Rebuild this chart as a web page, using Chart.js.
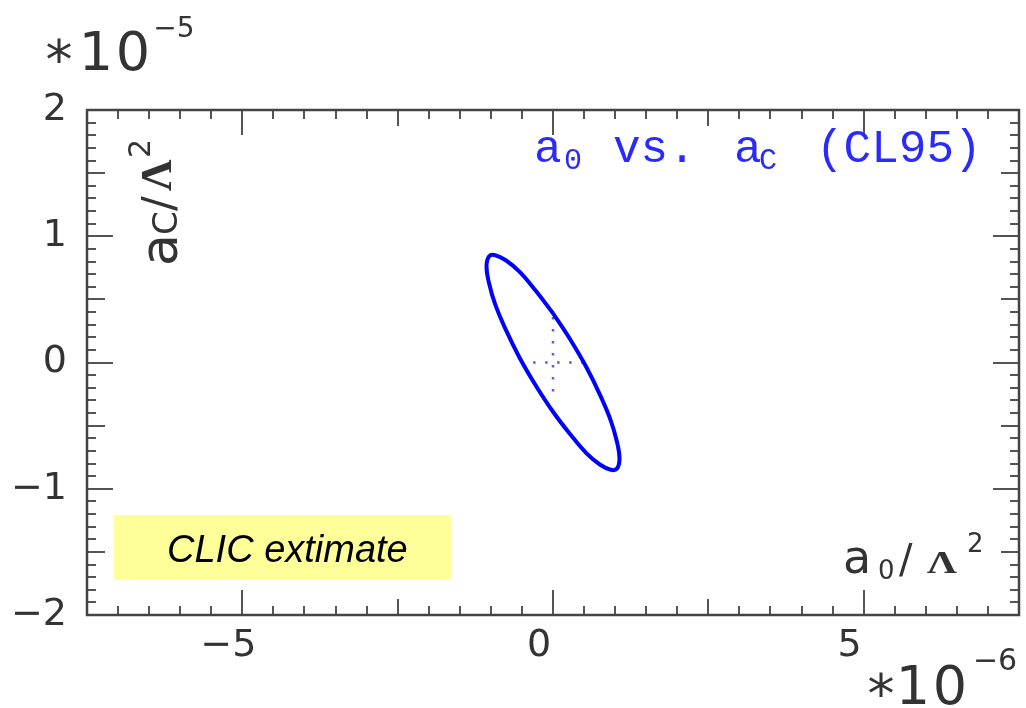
<!DOCTYPE html>
<html>
<head>
<meta charset="utf-8">
<script src="https://cdn.jsdelivr.net/npm/chart.js@4"></script>
<style>
  html, body { margin: 0; padding: 0; background: #ffffff; }
  #wrap { width: 1026px; height: 708px; }
</style>
</head>
<body>
<div id="wrap"><canvas id="c" width="1026" height="708"></canvas></div>
<script>
// ---- data (x in units of 1e-6, y in units of 1e-5) ----
const xTickValues = [-5, 0, 5];
const xTickLabels = ['\u22125', '0', '5'];
const yTickValues = [-2, -1, 0, 1, 2];
const yTickLabels = ['\u22122', '\u22121', '0', '1', '2'];

// CL95 contour of a0 vs aC
const ellipseX = [0.00, -0.28, -0.54, -0.76, -0.93, -1.03, -1.07, -1.03, -0.93, -0.76, -0.54, -0.28,
                  0.00, 0.28, 0.54, 0.76, 0.93, 1.03, 1.07, 1.03, 0.93, 0.76, 0.54, 0.28, 0.00];
const ellipseY = [0.39, 0.57, 0.72, 0.81, 0.85, 0.84, 0.76, 0.63, 0.46, 0.26, 0.04, -0.18,
                  -0.39, -0.57, -0.72, -0.81, -0.85, -0.84, -0.76, -0.63, -0.46, -0.26, -0.04, 0.18, 0.39];

// central value cross (dotted)
const crossHX = [-0.32, 0.48];
const crossHY = [0.00, 0.00];
const crossVX = [0.00, 0.00];
const crossVY = [0.36, -0.30];

const legendText = ['a', '0', 'vs.', 'a', 'C', '(CL95)'];
const boxText = 'CLIC extimate';

const toPts = (xs, ys) => xs.map((x, i) => ({ x: x, y: ys[i] }));

const FONT = "'DejaVu Sans', 'Liberation Sans', sans-serif";
const TEXT = '#333333';

const decor = {
  id: 'decor',
  beforeDatasetsDraw(chart) {
    const ctx = chart.ctx;
    ctx.save();
    ctx.fillStyle = '#ffff99';
    ctx.fillRect(114, 515, 337, 65);
    ctx.fillStyle = '#000000';
    ctx.font = "italic 38px 'Liberation Sans', Arial, sans-serif";
    ctx.textBaseline = 'alphabetic';
    ctx.textAlign = 'left';
    ctx.fillText(boxText, 167, 562);
    ctx.restore();
  },
  afterDraw(chart) {
    const ctx = chart.ctx;
    const a = chart.chartArea;
    const xs = chart.scales.x, ys = chart.scales.y;
    ctx.save();
    // ticks (inward)
    ctx.strokeStyle = '#555555';
    ctx.lineWidth = 2;
    ctx.beginPath();
    for (let k = -15; k <= 15; k++) {
      const v = k * 0.5;
      const px = Math.round(xs.getPixelForValue(v));
      let len = 9;
      if (k % 10 === 0) len = 25; else if (k % 5 === 0) len = 16;
      ctx.moveTo(px, a.bottom); ctx.lineTo(px, a.bottom - len);
      ctx.moveTo(px, a.top); ctx.lineTo(px, a.top + len);
    }
    for (let k = -20; k <= 20; k++) {
      const v = k * 0.1;
      const py = Math.round(ys.getPixelForValue(v));
      let len = 9;
      if (k % 10 === 0) len = 26; else if (k % 5 === 0) len = 18;
      ctx.moveTo(a.left, py); ctx.lineTo(a.left + len, py);
      ctx.moveTo(a.right, py); ctx.lineTo(a.right - len, py);
    }
    ctx.stroke();
    // frame
    ctx.strokeStyle = '#444444';
    ctx.lineWidth = 2.5;
    ctx.strokeRect(a.left, a.top, a.right - a.left, a.bottom - a.top);

    // exponent labels
    ctx.fillStyle = TEXT;
    ctx.textBaseline = 'alphabetic';
    ctx.textAlign = 'center';
    ctx.font = '54px ' + FONT;
    ctx.fillText('*', 59, 78);
    ctx.fillText('1', 96, 70);
    ctx.fillText('0', 133, 70);
    ctx.font = '28px ' + FONT;
    ctx.fillText('\u22125', 174, 37);

    ctx.font = '54px ' + FONT;
    ctx.fillText('*', 881, 712);
    ctx.fillText('1', 913, 704);
    ctx.fillText('0', 950, 704);
    ctx.font = '30px ' + FONT;
    ctx.fillText('\u22126', 995, 670);

    // x title a0/Λ2
    ctx.textAlign = 'left';
    ctx.font = '46px ' + FONT;
    ctx.fillText('a', 843, 573);
    ctx.font = '26px ' + FONT;
    ctx.fillText('0', 878, 579);
    ctx.font = '40px ' + FONT;
    ctx.fillText('/', 899, 573);
    ctx.save();
    ctx.translate(927, 573);
    ctx.scale(1.3, 1);
    ctx.font = "bold 32px 'Liberation Serif', serif";
    ctx.fillText('\u039B', 0, 0);
    ctx.restore();
    ctx.font = '26px ' + FONT;
    ctx.fillText('2', 967, 552);

    // y title aC/Λ2 (rotated)
    ctx.save();
    ctx.translate(177, 266);
    ctx.rotate(-Math.PI / 2);
    ctx.font = '52px ' + FONT;
    ctx.fillText('a', 0, 0);
    ctx.font = '34px ' + FONT;
    ctx.fillText('C', 31, 0);
    ctx.font = '44px ' + FONT;
    ctx.fillText('/', 55, -3);
    ctx.font = "bold 44px 'Liberation Serif', serif";
    ctx.fillText('\u039B', 75, -6);
    ctx.font = '30px ' + FONT;
    ctx.fillText('2', 108, -27);
    ctx.restore();

    // legend text
    ctx.fillStyle = '#2a2aff';
    ctx.font = "46px 'Liberation Mono', 'Courier New', monospace";
    ctx.fillText(legendText[0], 534, 162);
    ctx.fillText(legendText[2], 613, 162);
    ctx.fillText(legendText[3], 734, 162);
    ctx.fillText(legendText[5], 816, 162);
    ctx.font = "30px 'Liberation Mono', 'Courier New', monospace";
    ctx.fillText(legendText[1], 564, 169);
    ctx.fillText(legendText[4], 759, 169);
    ctx.restore();
  }
};

new Chart(document.getElementById('c'), {
  type: 'scatter',
  data: {
    datasets: [
      {
        data: toPts(ellipseX, ellipseY),
        showLine: true,
        borderColor: '#0000ff',
        borderWidth: 4,
        pointRadius: 0,
        tension: 0.4,
        fill: false
      },
      {
        data: toPts(crossHX, crossHY),
        showLine: true,
        borderColor: 'rgba(70,70,255,0.9)',
        borderWidth: 2.5,
        borderDash: [2.5, 9.5],
        pointRadius: 0
      },
      {
        data: toPts(crossVX, crossVY),
        showLine: true,
        borderColor: 'rgba(70,70,255,0.9)',
        borderWidth: 2.5,
        borderDash: [2.5, 9.5],
        pointRadius: 0
      }
    ]
  },
  options: {
    responsive: false,
    animation: false,
    layout: { padding: { top: 110, right: 7, left: 0, bottom: 0 } },
    plugins: { legend: { display: false }, tooltip: { enabled: false }, title: { display: false } },
    scales: {
      x: {
        type: 'linear', min: -7.5, max: 7.5,
        afterBuildTicks: (s) => { s.ticks = xTickValues.map(v => ({ value: v })); },
        afterFit: (s) => { s.height = 93; },
        grid: { display: false, drawTicks: false },
        border: { display: false },
        ticks: {
          padding: 8,
          labelOffset: -14,
          maxRotation: 0,
          autoSkip: false,
          color: TEXT,
          font: { family: FONT, size: 38 },
          callback: (v) => { const i = xTickValues.indexOf(v); return i >= 0 ? xTickLabels[i] : ''; }
        }
      },
      y: {
        type: 'linear', min: -2, max: 2,
        afterBuildTicks: (s) => { s.ticks = yTickValues.map(v => ({ value: v })); },
        afterFit: (s) => { s.width = 87; },
        grid: { display: false, drawTicks: false },
        border: { display: false },
        ticks: {
          padding: 20,
          autoSkip: false,
          color: TEXT,
          font: { family: FONT, size: 38 },
          callback: (v) => { const i = yTickValues.indexOf(v); return i >= 0 ? yTickLabels[i] : ''; }
        }
      }
    }
  },
  plugins: [decor]
});
</script>
</body>
</html>
